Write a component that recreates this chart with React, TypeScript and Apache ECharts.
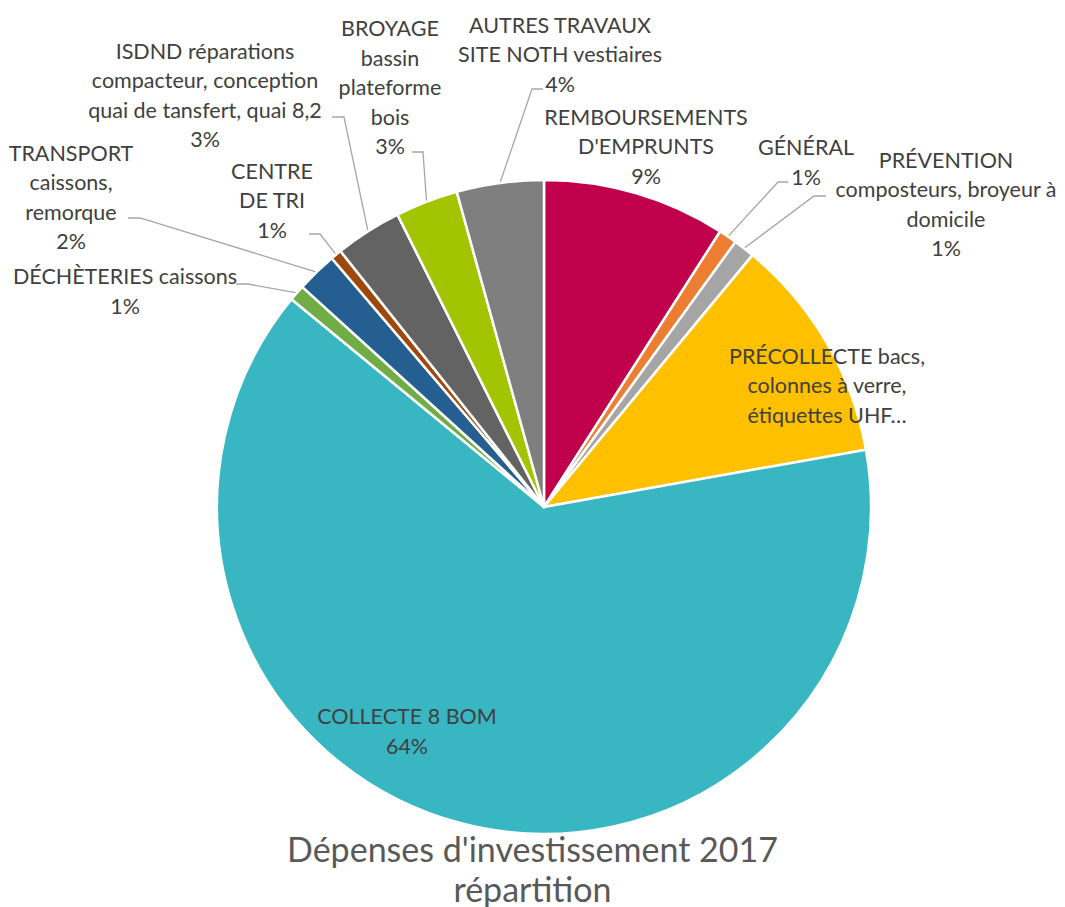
import React, { useEffect, useRef } from "react";
import * as echarts from "echarts";

const categories = [
  "REMBOURSEMENTS\nD'EMPRUNTS",
  "GÉNÉRAL",
  "PRÉVENTION\ncomposteurs, broyeur à\ndomicile",
  "PRÉCOLLECTE bacs,\ncolonnes à verre,\nétiquettes UHF…",
  "COLLECTE 8 BOM",
  "DÉCHÈTERIES caissons",
  "TRANSPORT\ncaissons,\nremorque",
  "CENTRE\nDE TRI",
  "ISDND réparations\ncompacteur, conception\nquai de tansfert, quai 8,2",
  "BROYAGE\nbassin\nplateforme\nbois",
  "AUTRES TRAVAUX\nSITE NOTH vestiaires",
];
const values = [9.06, 0.9, 1.05, 11.2, 63.8, 0.8, 2.0, 0.55, 3.3, 3.1, 4.3];
const colors = [
  "#C0004A", "#ED7D31", "#A5A5A5", "#FFC000", "#38B6C2", "#70AD47",
  "#255E91", "#9E480E", "#636363", "#A3C400", "#7F7F7F",
];
const showPercent = [true, true, true, false, true, true, true, true, true, true, true];
const hasLine = [false, true, true, false, false, true, true, true, true, true, true];
// label centre positions (px)
const labelPos: [number, number][] = [
  [646, 146], [806, 162], [946, 204], [827, 385], [407, 731], [125, 291],
  [71, 197], [272, 200], [205, 95], [390, 87], [560, 54],
];
// leader line bend & end points
const lineBend: ([number, number][] | null)[] = [
  null,
  [[778, 182], [788, 182]],
  [[814, 196], [826, 196]],
  null,
  null,
  [[248, 284], [236, 284]],
  [[140, 218], [128, 218]],
  [[320, 234], [309, 234]],
  [[344, 117], [332, 117]],
  [[423, 152], [412, 152]],
  [[532, 89], [543, 89]],
];

export default function App() {
  const ref = useRef<HTMLDivElement>(null);
  useEffect(() => {
    document.body.style.margin = "0";
    if (!ref.current) return;
    const chart = echarts.init(ref.current, null, { renderer: "svg" });
    const font = "Lato, 'Open Sans', sans-serif";
    chart.setOption({
      animation: false,
      title: {
        text: "Dépenses d'investissement 2017\nrépartition",
        left: "center",
        top: 823,
        textStyle: { fontFamily: font, fontSize: 34, fontWeight: "normal", color: "#595959", lineHeight: 40 },
      },
      series: [
        {
          type: "pie",
          center: [544, 507],
          radius: 327,
          startAngle: 90,
          clockwise: true,
          avoidLabelOverlap: false,
          itemStyle: { borderColor: "#fff", borderWidth: 2.5 },
          label: {
            show: true,
            fontFamily: font,
            fontSize: 21.5,
            lineHeight: 29.5,
            color: "#404040",
            align: "center",
            formatter: (p: any) =>
              showPercent[p.dataIndex] ? `${p.name}\n${Math.round(p.percent)}%` : p.name,
          },
          labelLine: { show: true, lineStyle: { color: "#A6A6A6", width: 1.3 } },
          labelLayout: (params: any) => {
            const i = params.dataIndex;
            const [x, y] = labelPos[i];
            const res: any = { x, y, align: "center", verticalAlign: "middle" };
            const start = params.labelLinePoints && params.labelLinePoints[0];
            if (lineBend[i] && start) {
              res.labelLinePoints = [start, lineBend[i]![0], lineBend[i]![1]];
            }
            return res;
          },
          data: categories.map((name, i) => ({
            name,
            value: values[i],
            itemStyle: { color: colors[i] },
            labelLine: { show: hasLine[i] },
          })),
        },
      ],
    });
    return () => chart.dispose();
  }, []);
  return <div ref={ref} style={{ width: 1065, height: 907 }} />;
}
